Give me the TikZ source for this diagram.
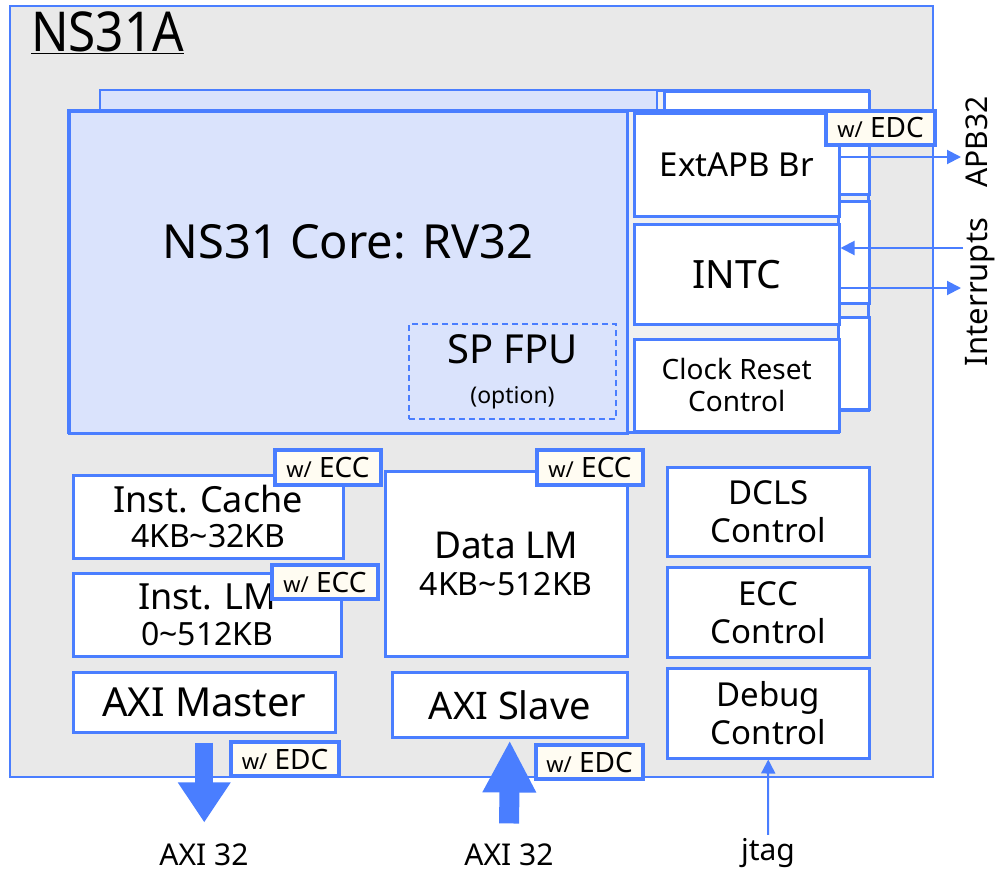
\documentclass[tikz,border=0pt]{standalone}
\usepackage{fontspec}
\usepackage{graphicx}
\setmainfont{Noto Sans}
\usetikzlibrary{arrows.meta, positioning, calc}

\definecolor{edgeblue}{RGB}{74,126,255}
\definecolor{corefill}{RGB}{218,227,252}
\definecolor{chipgray}{RGB}{233,233,233}
\definecolor{colgray}{RGB}{241,241,241}
\definecolor{tagfill}{RGB}{255,252,242}

\newcommand{\fs}[1]{\fontsize{#1}{1.15\dimexpr#1pt\relax}\selectfont}

\begin{document}
\begin{tikzpicture}[
        x=1pt, y=-1pt,
        chip/.style={draw=edgeblue, line width=2pt, fill=chipgray},
        group/.style={draw=edgeblue, line width=3pt, fill=colgray},
        core/.style={draw=edgeblue, line width=2.5pt, fill=corefill},
        blk/.style={
            draw=edgeblue,
            line width=2.5pt,
            fill=white,
            anchor=north west,
            align=center,
            inner sep=0pt,
            font=\fs{33}
        },
        tag/.style={
            draw=edgeblue,
            line width=4pt,
            fill=tagfill,
            anchor=north west,
            inner sep=0pt,
            font=\fs{28}
        },
        thin/.style={-{Triangle[length=14pt, width=14pt]}, draw=edgeblue, line width=2pt},
        fat/.style={draw=edgeblue, line width=#1},
        every label/.style={font=\fs{30}}
    ]

    \useasboundingbox (0,0) rectangle (997,873);

    % Chip outline
    \draw[chip] (10,6) rectangle (933,777);
    \node[anchor=north west, inner sep=0pt, font=\fs{55}] (title) at (31,11)
        {\underline{\scalebox{0.9}[1]{NS31A}}};

    % Back copy of the core group
    \draw[group] (100,90) rectangle (868,410);
    \draw[core] (100,90) rectangle (657,410);
    \node[blk, minimum width=205pt, minimum height=103pt] (extB)  at (663,90)  {};
    \node[blk, minimum width=205pt, minimum height=102pt] (intcB) at (663,200) {};
    \node[blk, minimum width=205pt, minimum height=92pt]  (clkB)  at (663,316) {};

    % Front core group
    \draw[group] (68,110) rectangle (838,432);
    \node[core, anchor=north west, minimum width=558pt, minimum height=322pt] (core) at (68,110) {};
    \node[font=\fs{47}] (corelbl) at (348,242) {NS31 Core: RV32};
    \node[blk, draw=edgeblue, dash pattern=on 6pt off 4pt, line width=2pt, fill=corefill, font=\fs{40},
          minimum width=207pt, minimum height=95pt] (fpu) at (408,323)
        {SP FPU\\[-6pt]{\fs{23}(option)}};

    % Peripheral column
    \node[blk, minimum width=205pt, minimum height=103pt] (ext)  at (633,112) {ExtAPB Br};
    \node[blk, minimum width=205pt, minimum height=100pt, font=\fs{39}] (intc) at (633,223) {INTC};
    \node[blk, minimum width=205pt, minimum height=92pt, font=\fs{28}] (clk) at (633,338)
        {Clock Reset\\Control};
    \node[tag, minimum width=109pt, minimum height=34pt] (apbtag) at (824,109) {{\fs{22}w/} EDC};

    % Memories and bus ports
    \node[blk, minimum width=270pt, minimum height=83pt, font=\fs{36}] (icache) at (72,474)
        {Inst. Cache\\[-6pt]{\fs{32}4KB\textasciitilde32KB}};
    \node[blk, minimum width=268pt, minimum height=83pt, font=\fs{36}] (ilm) at (72,572)
        {Inst. LM\\[-6pt]{\fs{32}0\textasciitilde512KB}};
    \node[blk, minimum width=262pt, minimum height=60pt, font=\fs{40}] (axim) at (72,671) {AXI Master};
    \node[blk, minimum width=242pt, minimum height=185pt, font=\fs{37}] (dlm) at (384,470)
        {Data LM\\[-6pt]{\fs{32}4KB\textasciitilde512KB}};
    \node[blk, minimum width=235pt, minimum height=65pt, font=\fs{38}] (axis) at (391,671) {AXI Slave};

    \node[tag, minimum width=106pt, minimum height=35pt] (icachetag) at (273,448) {{\fs{22}w/} ECC};
    \node[tag, minimum width=106pt, minimum height=34pt] (ilmtag)    at (270,563) {{\fs{22}w/} ECC};
    \node[tag, minimum width=106pt, minimum height=35pt] (dlmtag)    at (535,448) {{\fs{22}w/} ECC};

    % Control blocks
    \node[blk, minimum width=202pt, minimum height=89pt] (dcls) at (666,466) {DCLS\\Control};
    \node[blk, minimum width=202pt, minimum height=90pt] (eccc) at (666,566) {ECC\\Control};
    \node[blk, minimum width=202pt, minimum height=90pt] (dbg)  at (666,667) {Debug\\Control};

    % Outside labels
    \node[font=\fs{30}] (axi32m) at (204,855) {AXI 32};
    \node[font=\fs{30}] (axi32s) at (509,855) {AXI 32};
    \node[font=\fs{30}] (jtag)   at (768,853) {jtag};
    \node[font=\fs{30}, rotate=90] (apblbl) at (977,142) {APB32};
    \node[font=\fs{31}, rotate=90] (irqlbl) at (980,292) {Interrupts};

    \coordinate (apbend) at (961,157);
    \coordinate (irqin)  at (963,248);
    \coordinate (irqout) at (961,288);

    % Bus arrows
    \draw[fat=18pt, -{Triangle[length=40pt, width=50pt]}, shorten <=9pt, shorten >=18pt]
        (axim.south) -- (axim.south |- axi32m.north);
    \draw[fat=20pt, -{Triangle[length=52pt, width=50pt]}, shorten <=17pt, shorten >=2pt]
        (axi32s.north) -- (axis.south);
    \draw[thin] (jtag.north) -- (dbg.south);

    % APB and interrupt lines
    \draw[thin] (ext.east |- apbend) -- (apbend);
    \draw[thin] (irqin) -- (intc.east |- irqin);
    \draw[thin] (intc.east |- irqout) -- (irqout);

    % Tags on the bus ports
    \node[tag, minimum width=108pt, minimum height=34pt] (axitagm) at (229,740) {{\fs{22}w/} EDC};
    \node[tag, minimum width=107pt, minimum height=34pt] (axitags) at (534,743) {{\fs{22}w/} EDC};

\end{tikzpicture}
\end{document}
